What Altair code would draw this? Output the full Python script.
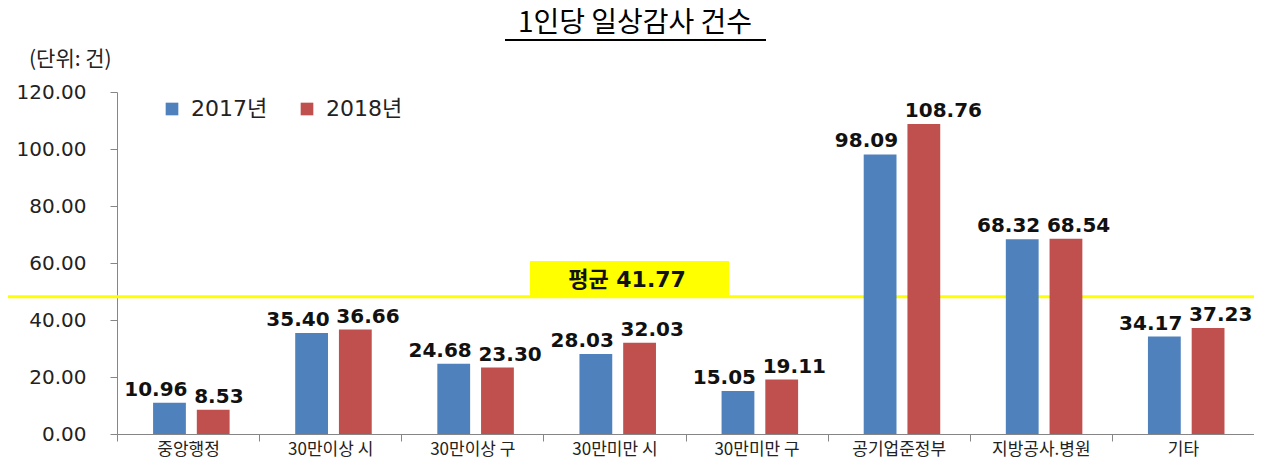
import altair as alt
import pandas as pd

categories = ["중앙행정", "30만이상 시", "30만이상 구", "30만미만 시", "30만미만 구", "공기업준정부", "지방공사.병원", "기타"]
v2017 = [10.96, 35.40, 24.68, 28.03, 15.05, 98.09, 68.32, 34.17]
v2018 = [8.53, 36.66, 23.30, 32.03, 19.11, 108.76, 68.54, 37.23]
years = ["2017년", "2018년"]
colors = ["#4F81BD", "#C0504D"]
avg_label = "평균 41.77"
avg_line = 48.2
y_ticks = [0, 20, 40, 60, 80, 100, 120]
title_text = "1인당 일상감사 건수"
unit_text = "(단위: 건)"

rows = []
for c, a, b in zip(categories, v2017, v2018):
    rows.append({"cat": c, "year": years[0], "value": a})
    rows.append({"cat": c, "year": years[1], "value": b})
df = pd.DataFrame(rows)

W, H = 1137, 342
KR = "Noto Sans CJK KR"
NUM = "DejaVu Sans, Noto Sans CJK KR"

x_enc = alt.X("cat:N", sort=categories,
              scale=alt.Scale(paddingInner=0, paddingOuter=0),
              axis=alt.Axis(title=None, labelAngle=0, tickBand="extent",
                            labelFont=KR, labelFontSize=17, labelColor="#222222",
                            labelPadding=0, labelBaseline="top", tickSize=7,
                            tickColor="#868686", domainColor="#868686"))
xo_enc = alt.XOffset("year:N", sort=years,
                     scale=alt.Scale(paddingInner=0.25, paddingOuter=0.75, align=0.55))
y_enc = alt.Y("value:Q", scale=alt.Scale(domain=[0, 120], nice=False),
              axis=alt.Axis(title=None, values=y_ticks, format=".2f", grid=False,
                            labelFont="DejaVu Sans", labelFontSize=20, labelColor="#222222",
                            tickSize=7, labelPadding=24, tickColor="#868686",
                            domainColor="#868686"))

base = alt.Chart(df)
bars = base.mark_bar().encode(
    x=x_enc, xOffset=xo_enc, y=y_enc,
    color=alt.Color("year:N", sort=years,
                    scale=alt.Scale(domain=years, range=colors),
                    legend=alt.Legend(title=None, orient="none", direction="horizontal",
                                      legendX=44, legendY=6, symbolType="square",
                                      symbolSize=160, symbolStrokeWidth=0,
                                      labelFont=NUM, labelFontSize=22,
                                      labelColor="#222222", columnPadding=28,
                                      labelOffset=8)),
)

def value_labels(year, dx, align):
    return base.transform_filter(alt.datum.year == year).mark_text(
        baseline="alphabetic", dy=-7, dx=dx, align=align, font="DejaVu Sans",
        fontWeight="bold", fontSize=20, color="#111111").encode(
        x=alt.X("cat:N", sort=categories), xOffset=alt.XOffset("year:N", sort=years),
        y="value:Q", text=alt.Text("value:Q", format=".2f"))

labels_a = value_labels(years[0], 18, "right")
labels_b = value_labels(years[1], -19, "left")

avg_df = pd.DataFrame({"v": [avg_line], "t": [avg_label]})
avg_rule = alt.Chart(avg_df).mark_rule(color="#FFFF00", strokeWidth=3).encode(
    y="v:Q", x=alt.value(-117), x2=alt.value(W + 20))
avg_box = alt.Chart(avg_df).mark_rect(color="#FFFF00").encode(
    y="v:Q", y2=alt.value(169), x=alt.value(413), x2=alt.value(612))
avg_text = alt.Chart(avg_df).mark_text(font=NUM, fontWeight="bold", fontSize=22,
                                       color="#111111").encode(
    text="t:N", x=alt.value(510), y=alt.value(188))

meta_df = pd.DataFrame({"title": [title_text], "unit": [unit_text]})
title = alt.Chart(meta_df).mark_text(font=KR, fontSize=28, color="#000000").encode(
    text="title:N", x=alt.value(518), y=alt.value(-68))
underline = alt.Chart(meta_df).mark_rule(color="#000000", strokeWidth=2).encode(
    x=alt.value(388), x2=alt.value(649), y=alt.value(-52))
unit = alt.Chart(meta_df).mark_text(font=KR, fontSize=21, color="#222222",
                                    align="left").encode(
    text="unit:N", x=alt.value(-88), y=alt.value(-32))

chart = alt.layer(avg_rule, avg_box, avg_text, bars, labels_a, labels_b,
                  title, underline, unit).properties(
    width=W, height=H,
    padding={"left": 109, "top": 84, "right": 0, "bottom": 29},
    autosize=alt.AutoSizeParams(type="none"),
    background="white",
).configure_view(stroke=None)

chart.save("out.html", embed_options={"renderer": "svg", "actions": False})
